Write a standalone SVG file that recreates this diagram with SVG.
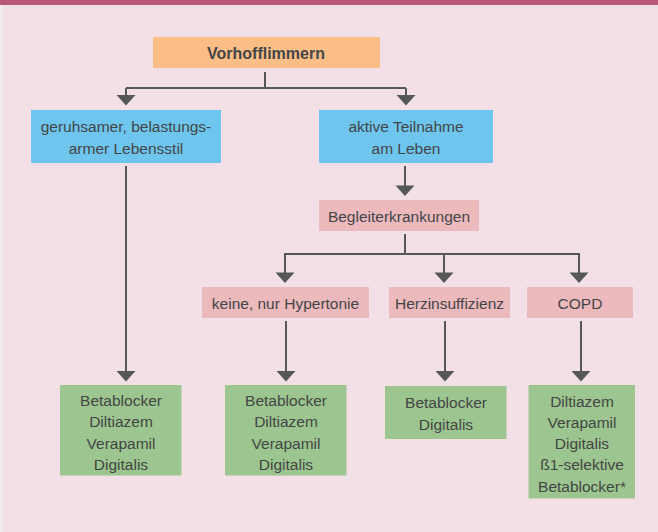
<svg xmlns="http://www.w3.org/2000/svg" width="658" height="532" viewBox="0 0 658 532">
<style>
text{font-family:"Liberation Sans",Arial,sans-serif;font-size:15.5px;fill:#444546;text-anchor:middle}
.b{font-weight:bold;font-size:16px}
.or{fill:#fbbe86}.bl{fill:#6ec6ef}.pk{fill:#ecb9bd}.gr{fill:#9cc58f}
.ln{stroke:#555759;stroke-width:2;fill:none}
.ah{fill:#555759}
</style>
<rect width="658" height="532" fill="#f3e0e7"/>
<rect x="0" y="5" width="2.5" height="527" fill="#f7ecf0"/>
<rect width="658" height="5" fill="#b9587b"/>
<g id="connectors">
<path class="ln" d="M265,72 V88 M126,88 H406 M405,234 V254 M284,254 H580 M444,254 V273"/>
<path class="ln" d="M126,88 V96 M406,88 V96 M405,166 V186 M285,254 V273 M579,254 V273"/>
<path class="ah" d="M116.5,95 L135.5,95 L126,105.5 Z M396.5,95 L415.5,95 L406,105.5 Z"/>
<path class="ah" d="M395.5,185.5 L414.5,185.5 L405,196 Z"/>
<path class="ah" d="M275.5,272.5 L294.5,272.5 L285,283 Z M434.5,272.5 L453.5,272.5 L444,283 Z M569.5,272.5 L588.5,272.5 L579,283 Z"/>
<path class="ln" d="M126,166 V372 M286,321 V372 M445,321 V372 M581,321 V372"/>
<path class="ah" d="M116.5,371 L135.5,371 L126,381.5 Z M276.5,371 L295.5,371 L286,381.5 Z M435.5,371 L454.5,371 L445,381.5 Z M571.5,371 L590.5,371 L581,381.5 Z"/>
</g>
<g id="n-vorhof"><rect class="or" x="153" y="37" width="227" height="31"/><text class="b" x="266" y="59">Vorhofflimmern</text></g>
<g id="n-geruh"><rect class="bl" x="31" y="110" width="190" height="53"/><text x="126" y="132">geruhsamer, belastungs-</text><text x="126" y="153.5">armer Lebensstil</text></g>
<g id="n-aktiv"><rect class="bl" x="319" y="110" width="174" height="53"/><text x="406" y="132">aktive Teilnahme</text><text x="406" y="153.5">am Leben</text></g>
<g id="n-begl"><rect class="pk" x="319" y="200" width="160" height="31"/><text x="399" y="221.5">Begleiterkrankungen</text></g>
<g id="n-keine"><rect class="pk" x="202" y="287" width="167" height="31"/><text x="285.5" y="309">keine, nur Hypertonie</text></g>
<g id="n-herz"><rect class="pk" x="389" y="287" width="121" height="31"/><text x="449.5" y="309">Herzinsuffizienz</text></g>
<g id="n-copd"><rect class="pk" x="527" y="287" width="106" height="31"/><text x="580" y="309">COPD</text></g>
<g id="n-g1"><rect class="gr" x="60" y="385" width="121.5" height="90.5"/><text x="121" y="406">Betablocker</text><text x="121" y="427.3">Diltiazem</text><text x="121" y="448.6">Verapamil</text><text x="121" y="469.9">Digitalis</text></g>
<g id="n-g2"><rect class="gr" x="225" y="385" width="121.5" height="90.5"/><text x="286" y="406">Betablocker</text><text x="286" y="427.3">Diltiazem</text><text x="286" y="448.6">Verapamil</text><text x="286" y="469.9">Digitalis</text></g>
<g id="n-g3"><rect class="gr" x="385" y="386" width="121.5" height="53"/><text x="446" y="408.3">Betablocker</text><text x="446" y="429.5">Digitalis</text></g>
<g id="n-g4"><rect class="gr" x="528.5" y="385" width="106.5" height="113.5"/><text x="582" y="406.7">Diltiazem</text><text x="582" y="427.9">Verapamil</text><text x="582" y="449.1">Digitalis</text><text x="582" y="470.3">ß1-selektive</text><text x="582" y="491.5">Betablocker*</text></g>
</svg>
